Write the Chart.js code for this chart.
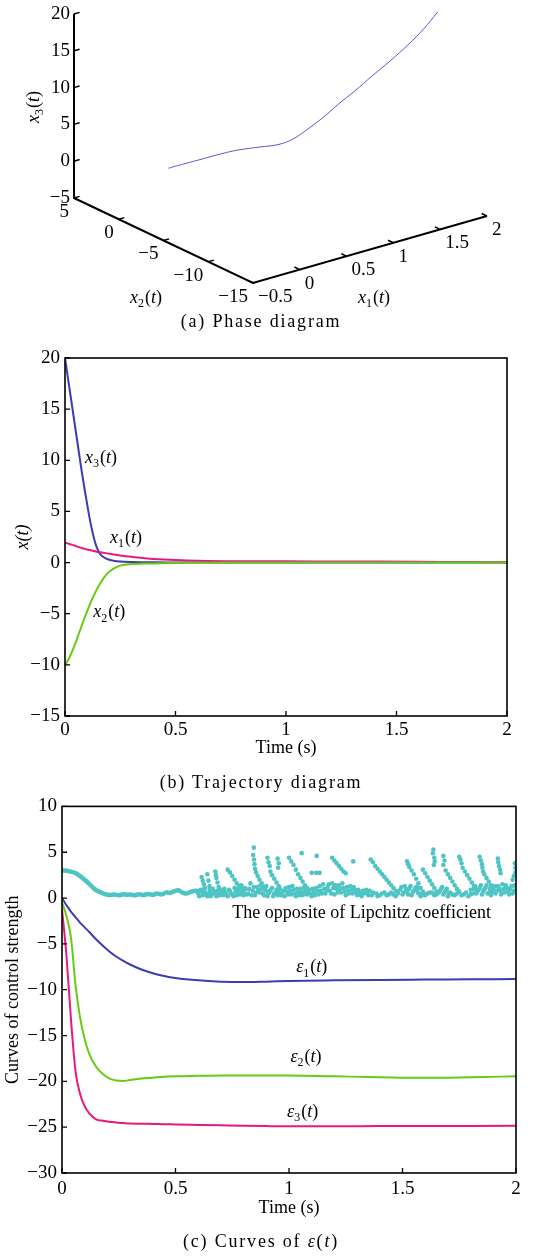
<!DOCTYPE html>
<html>
<head>
<meta charset="utf-8">
<script src="https://cdn.jsdelivr.net/npm/chart.js@4"></script>
<style>
body { margin: 0; background: #fff; }
#wrap { position: relative; width: 536px; height: 1256px; }
canvas { position: absolute; left: 0; }
.cap { position: absolute; left: 0; width: 522px; text-align: center; font: 18px "Liberation Serif", serif; letter-spacing: 1.8px; color: #000; }
</style>
</head>
<body>
<div id="wrap">
  <canvas id="phase" width="536" height="312" style="top:0"></canvas>
  <div class="cap" style="top:311px">(a) Phase diagram</div>
  <canvas id="traj" width="536" height="420" style="top:340px"></canvas>
  <div class="cap" style="top:772px">(b) Trajectory diagram</div>
  <canvas id="eps" width="536" height="430" style="top:790px"></canvas>
  <div class="cap" style="top:1231px">(c) Curves of <i>ε</i>(<i>t</i>)</div>
</div>
<script>
Chart.defaults.font.family = '"Liberation Serif", "Times New Roman", serif';
Chart.defaults.font.size = 18;
Chart.defaults.color = '#000';

// ---- (b) trajectories ----
const timeB = [0, 0.015, 0.03, 0.045, 0.06, 0.075, 0.09, 0.105, 0.12, 0.14, 0.16, 0.19, 0.22, 0.25, 0.3, 0.35, 0.4, 0.5, 0.6, 0.8, 1.0, 1.2, 1.4, 1.6, 1.8, 2.0];
const x1Vals = [1.95, 1.85, 1.75, 1.64, 1.53, 1.43, 1.34, 1.26, 1.18, 1.09, 1.01, 0.9, 0.8, 0.7, 0.56, 0.44, 0.36, 0.25, 0.18, 0.13, 0.12, 0.11, 0.1, 0.08, 0.05, 0.03];
const x2Vals = [-10, -9.5, -8.8, -8.0, -7.1, -6.2, -5.3, -4.5, -3.7, -2.8, -2.0, -1.1, -0.6, -0.3, -0.15, -0.1, -0.08, -0.04, -0.02, 0, 0, 0, 0, 0, 0, 0];
const x3Vals = [20, 17.8, 15.6, 13.4, 11.2, 9.0, 7.0, 5.1, 3.4, 1.7, 0.8, 0.35, 0.18, 0.1, 0.05, 0.03, 0.02, 0.01, 0, 0, 0, 0, 0, 0, 0, 0];

// ---- (a) axis ticks ----
const x1Ticks = [-0.5, 0, 0.5, 1, 1.5, 2];
const x2Ticks = [5, 0, -5, -10, -15];
const x3Ticks = [-5, 0, 5, 10, 15, 20];

// ---- (c) control strength ----
const timeC = [0, 0.02, 0.04, 0.06, 0.08, 0.1, 0.12, 0.15, 0.18, 0.21, 0.24, 0.27, 0.3, 0.35, 0.4, 0.45, 0.5, 0.6, 0.7, 0.8, 0.9, 1.0, 1.2, 1.4, 1.6, 1.8, 2.0];
const eps1 = [0, -0.8, -1.5, -2.1, -2.7, -3.2, -3.7, -4.5, -5.2, -5.85, -6.4, -6.85, -7.25, -7.8, -8.2, -8.5, -8.72, -8.98, -9.12, -9.17, -9.12, -9.05, -8.98, -8.93, -8.9, -8.87, -8.84];
const eps2 = [-0.5, -2.0, -4.4, -9.6, -13.1, -15.4, -17.0, -18.4, -19.2, -19.7, -19.9, -19.95, -19.85, -19.7, -19.6, -19.5, -19.45, -19.4, -19.35, -19.35, -19.35, -19.35, -19.45, -19.55, -19.62, -19.55, -19.45];
const eps3 = [-1.2, -6.4, -13.4, -19.0, -21.4, -22.7, -23.5, -24.15, -24.3, -24.4, -24.5, -24.55, -24.6, -24.62, -24.65, -24.68, -24.7, -24.75, -24.8, -24.85, -24.88, -24.9, -24.9, -24.88, -24.87, -24.86, -24.85];

// opposite of the Lipschitz coefficient: smooth start, then scattered
const lipLineT = [0, 0.013, 0.035, 0.057, 0.08, 0.1, 0.12, 0.138, 0.155, 0.175, 0.19, 0.21, 0.23, 0.25, 0.27, 0.285, 0.3, 0.32, 0.34, 0.358, 0.38, 0.4, 0.417, 0.44, 0.46, 0.476, 0.495, 0.512, 0.53, 0.55, 0.57, 0.593, 0.61];
const lipLineV = [3.0, 3.0, 2.9, 2.75, 2.4, 2.0, 1.55, 1.1, 0.8, 0.58, 0.42, 0.33, 0.38, 0.3, 0.42, 0.35, 0.4, 0.3, 0.42, 0.33, 0.45, 0.35, 0.5, 0.4, 0.62, 0.55, 0.75, 0.85, 0.6, 0.5, 0.7, 0.8, 0.6];
const lipStreaks = [
  [0.615,2.3],[0.62,1.9],[0.625,1.5],[0.63,1.1],[0.64,2.6],[0.645,1.9],[0.65,1.3],[0.655,0.8],
  [0.675,2.9],[0.678,2.5],[0.68,2.2],[0.685,1.7],[0.69,1.2],
  [0.73,3.1],[0.74,2.8],[0.75,2.4],[0.76,2.0],[0.77,1.6],[0.78,1.3],[0.79,1.0],[0.80,0.7],
  [0.845,5.5],[0.842,4.7],[0.846,4.2],[0.848,3.7],[0.85,3.2],[0.855,2.8],[0.862,2.4],[0.87,2.0],[0.88,1.6],[0.89,1.2],[0.90,0.8],
  [0.905,4.4],[0.91,3.9],[0.915,3.5],[0.918,2.9],[0.925,2.5],[0.935,2.1],[0.945,1.7],[0.955,1.3],
  [0.95,4.3],[0.955,3.8],[0.952,3.3],
  [1.0,4.4],[1.01,4.0],[1.02,3.6],[1.03,3.1],[1.04,2.6],[1.05,2.2],[1.06,1.8],[1.07,1.4],[1.08,1.1],
  [1.056,4.9],[1.122,4.6],[1.10,2.75],[1.12,2.75],[1.135,2.75],
  [1.19,4.4],[1.2,4.1],[1.21,3.8],[1.22,3.5],[1.23,3.2],[1.24,2.9],[1.25,2.7],
  [1.283,4.0],
  [1.36,4.2],[1.37,3.9],[1.38,3.5],[1.39,3.2],[1.40,2.9],[1.41,2.6],[1.42,2.3],[1.43,2.0],[1.44,1.7],[1.45,1.4],[1.46,1.1],[1.47,0.8],[1.48,0.5],
  [1.52,4.0],[1.525,3.7],[1.53,3.4],[1.54,3.0],[1.55,2.6],[1.56,2.1],[1.57,1.6],[1.58,1.1],
  [1.59,3.1],[1.60,2.7],[1.61,2.3],[1.62,1.9],[1.63,1.5],[1.64,1.1],[1.65,0.7],
  [1.636,5.3],[1.634,4.9],[1.64,4.4],[1.642,4.0],[1.638,3.6],
  [1.68,4.6],[1.685,4.1],[1.68,3.6],
  [1.69,3.0],[1.70,2.6],[1.71,2.2],[1.72,1.8],[1.73,1.4],[1.74,1.0],
  [1.75,4.5],[1.755,4.2],[1.76,3.8],
  [1.765,3.3],[1.775,2.9],[1.785,2.5],[1.795,2.1],[1.805,1.7],[1.815,1.3],[1.825,0.9],
  [1.84,4.5],[1.845,4.1],[1.85,3.7],[1.852,3.3],[1.855,2.9],
  [1.86,2.6],[1.87,2.2],[1.88,1.8],[1.89,1.4],
  [1.92,4.3],[1.922,3.9],[1.925,3.5],[1.93,3.1],[1.932,2.7],
  [1.995,3.8],[1.997,3.3],[1.998,2.8],[1.99,2.4],[1.985,2.0]
];
const lipCloud = [
  [0.60,0.5],[0.61,0.9],[0.62,0.3],[0.63,0.6],[0.64,0.2],[0.65,0.9],[0.66,0.4],[0.67,0.7],[0.68,0.2],[0.69,0.5],
  [0.70,0.9],[0.71,0.3],[0.72,0.6],[0.73,0.2],[0.74,0.8],[0.75,0.4],[0.76,1.1],[0.77,0.3],[0.78,0.7],[0.79,1.4],
  [0.80,0.3],[0.81,1.0],[0.82,0.5],[0.83,1.6],[0.84,0.8],[0.85,0.3],[0.86,1.2],[0.87,0.6],[0.88,1.0],[0.89,0.3],
  [0.90,1.3],[0.91,0.5],[0.92,0.9],[0.93,0.2],[0.94,0.6],[0.95,0.3],[0.96,1.0],[0.97,0.5],[0.98,0.2],[0.99,0.7],
  [1.0,1.2],[1.01,0.4],[1.02,0.9],[1.03,0.2],[1.04,0.6],[1.05,1.0],[1.06,0.3],[1.07,0.7],[1.08,0.4],[1.09,0.9],
  [1.10,0.2],[1.11,0.6],[1.12,1.1],[1.13,0.4],[1.14,0.8],[1.15,1.5],[1.16,0.5],[1.17,1.2],[1.18,0.8],[1.19,1.6],
  [1.20,0.4],[1.21,1.0],[1.22,1.4],[1.23,0.6],[1.24,1.1],[1.25,0.3],[1.26,0.8],[1.27,1.3],[1.28,0.5],[1.29,0.9],
  [1.30,0.3],[1.31,0.6],[1.32,0.2],[1.33,0.5],[1.34,0.9],[1.35,0.3],[1.37,0.6],[1.39,0.2],[1.41,0.5],[1.43,0.3],
  [1.45,0.6],[1.47,0.2],[1.49,0.9],[1.50,0.4],[1.51,1.3],[1.52,0.7],[1.53,1.0],[1.54,0.3],[1.55,0.8],[1.56,1.2],
  [1.57,0.5],[1.58,0.2],[1.59,0.7],[1.60,0.3],[1.62,0.6],[1.64,0.3],[1.66,0.6],[1.67,1.0],[1.68,0.4],[1.69,0.8],
  [1.70,0.2],[1.71,0.6],[1.73,0.3],[1.75,0.7],[1.77,0.4],[1.79,0.2],[1.80,0.9],[1.81,0.5],[1.82,1.3],[1.83,0.7],
  [1.84,1.1],[1.85,0.4],[1.86,0.9],[1.87,1.4],[1.88,0.6],[1.89,0.3],[1.90,1.0],[1.91,0.5],[1.92,1.3],[1.93,0.8],
  [1.94,1.5],[1.95,0.6],[1.96,1.1],[1.97,0.4],[1.98,1.3],[1.99,0.8],[2.0,1.2],
  [0.605,0.2],[0.615,0.7],[0.625,1.0],[0.635,0.4],[0.645,0.5],[0.655,0.2],[0.665,1.0],[0.675,0.5],[0.685,0.8],[0.695,0.3],
  [0.705,0.6],[0.715,1.0],[0.725,0.4],[0.735,0.9],[0.745,0.5],[0.755,0.2],[0.765,0.7],[0.775,1.0],[0.785,0.4],[0.795,0.6],
  [0.805,1.1],[0.815,0.4],[0.825,1.0],[0.835,0.3],[0.845,1.2],[0.855,0.6],[0.865,0.9],[0.875,1.4],[0.885,0.5],[0.895,0.9],
  [0.905,0.2],[0.915,0.7],[0.925,1.1],[0.935,0.5],[0.945,0.9],[0.955,0.6],[0.965,0.3],[0.975,0.8],[0.985,1.1],[0.995,0.4],
  [1.005,0.8],[1.015,1.3],[1.025,0.5],[1.035,1.0],[1.045,0.3],[1.055,0.6],[1.065,1.1],[1.075,0.5],[1.085,0.8],[1.095,0.5],
  [1.105,1.0],[1.115,0.3],[1.125,0.8],[1.135,1.3],[1.145,0.5],[1.155,1.0],[1.165,0.8],[1.175,1.5],[1.185,0.5],[1.195,1.1],
  [1.205,1.4],[1.215,0.6],[1.225,1.0],[1.235,1.6],[1.245,0.7],[1.255,1.2],[1.265,0.5],[1.275,0.9],[1.285,1.2],[1.295,0.6],
  [1.305,0.9],[1.315,0.4],[1.325,0.8],[1.345,0.5],[1.355,0.8],[1.365,0.3],[1.385,0.5],[1.40,0.3],[1.42,0.6],[1.44,0.4],
  [1.46,0.4],[1.48,0.7],[1.495,1.2],[1.505,0.6],[1.515,1.0],[1.525,0.4],[1.535,1.3],[1.545,0.6],[1.555,1.0],[1.565,0.8],
  [1.575,1.1],[1.585,0.5],[1.595,0.4],[1.61,0.5],[1.63,0.6],[1.65,0.4],[1.665,0.8],[1.675,1.2],[1.685,0.6],[1.695,1.0],
  [1.705,0.5],[1.72,0.4],[1.74,0.5],[1.76,0.3],[1.78,0.6],[1.80,0.4],[1.815,1.0],[1.825,0.5],[1.835,0.9],[1.845,1.4],
  [1.855,0.7],[1.865,1.1],[1.875,0.5],[1.885,1.0],[1.895,0.7],[1.905,1.3],[1.915,0.8],[1.925,1.1],[1.935,0.4],[1.945,1.0],
  [1.955,1.4],[1.965,0.7],[1.975,1.0],[1.985,0.5],[1.995,1.4]
];

const BLUE = '#3c3cb4', PINK = '#e8187e', GREEN = '#66cc11', CYAN = '#4fc4c4';
const SERIF = '"Liberation Serif", "Times New Roman", serif';
const minus = v => (v < 0 ? '\u2212' + Math.abs(v) : String(v));

// draws x_3(t)-style text centred on (cx, cy); parts: [text, 'i'|'r'|'s']
function drawMath(ctx, cx, cy, parts, size) {
  const fontOf = s => s === 'i' ? `italic ${size}px ${SERIF}` : s === 's' ? `${Math.round(size * 0.65)}px ${SERIF}` : `${size}px ${SERIF}`;
  let w = 0;
  parts.forEach(([t, s]) => { ctx.font = fontOf(s); w += ctx.measureText(t).width + (s === 's' ? 1 : 0); });
  let x = cx - w / 2;
  ctx.textAlign = 'left';
  ctx.textBaseline = 'middle';
  ctx.fillStyle = '#000';
  parts.forEach(([t, s]) => {
    ctx.font = fontOf(s);
    ctx.fillText(t, x, s === 's' ? cy + size * 0.32 : cy);
    x += ctx.measureText(t).width + (s === 's' ? 1 : 0);
  });
}
const sym = (b, n) => [[b, 'i'], [n, 's'], ['(', 'r'], ['t', 'i'], [')', 'r']];

// ---------------- (a) phase diagram ----------------
const view = { ox: 253, oy: 283, e1: [93.6, -26.8], e2: [-8.95, -4.25], e3: [0, -7.36] };
function proj(a, b, c) {
  const u = a - x1Ticks[0], v = b - Math.min(...x2Ticks), w = c - x3Ticks[0];
  return {
    x: view.ox + u * view.e1[0] + v * view.e2[0] + w * view.e3[0],
    y: view.oy + u * view.e1[1] + v * view.e2[1] + w * view.e3[1]
  };
}

const axes3d = {
  id: 'axes3d',
  beforeDatasetsDraw(chart) {
    const { ctx, scales: { x, y } } = chart;
    const P = (a, b, c) => { const p = proj(a, b, c); return [x.getPixelForValue(p.x), y.getPixelForValue(p.y)]; };
    const x1min = x1Ticks[0], x1max = x1Ticks[x1Ticks.length - 1];
    const x2min = Math.min(...x2Ticks), x2max = Math.max(...x2Ticks);
    const x3min = x3Ticks[0], x3max = x3Ticks[x3Ticks.length - 1];
    ctx.save();
    ctx.strokeStyle = '#000';
    ctx.lineWidth = 2;
    ctx.beginPath();
    let p = P(x1min, x2max, x3max); ctx.moveTo(p[0], p[1]);
    p = P(x1min, x2max, x3min); ctx.lineTo(p[0], p[1]);
    p = P(x1min, x2min, x3min); ctx.lineTo(p[0], p[1]);
    p = P(x1max, x2min, x3min); ctx.lineTo(p[0], p[1]);
    ctx.stroke();

    ctx.lineWidth = 1.5;
    ctx.beginPath();
    x3Ticks.forEach(v => { const a = P(x1min, x2max, v), b = P(x1min + 0.06, x2max, v); ctx.moveTo(a[0], a[1]); ctx.lineTo(b[0], b[1]); });
    x2Ticks.forEach(v => { const a = P(x1min, v, x3min), b = P(x1min + 0.06, v, x3min); ctx.moveTo(a[0], a[1]); ctx.lineTo(b[0], b[1]); });
    x1Ticks.forEach(v => { const a = P(v, x2min, x3min), b = P(v, x2min + 0.6, x3min); ctx.moveTo(a[0], a[1]); ctx.lineTo(b[0], b[1]); });
    ctx.stroke();

    ctx.fillStyle = '#000';
    ctx.font = `19px ${SERIF}`;
    ctx.textBaseline = 'middle';
    ctx.textAlign = 'right';
    x3Ticks.forEach(v => { const a = P(x1min, x2max, v); ctx.fillText(minus(v), a[0] - 4, a[1]); });
    x2Ticks.forEach(v => { const a = P(x1min, v, x3min); ctx.fillText(minus(v), a[0] - 5, a[1] + 14); });
    ctx.textAlign = 'left';
    x1Ticks.forEach(v => { const a = P(v, x2min, x3min); ctx.fillText(minus(v), a[0] + 5, a[1] + 14); });

    drawMath(ctx, 146, 298, sym('x', '2'), 18);
    drawMath(ctx, 374, 298, sym('x', '1'), 18);
    ctx.translate(34, 107);
    ctx.rotate(-Math.PI / 2);
    drawMath(ctx, 0, 0, sym('x', '3'), 18);
    ctx.restore();
  }
};

new Chart(document.getElementById('phase'), {
  type: 'scatter',
  data: {
    datasets: [{
      data: timeB.map((t, i) => proj(x1Vals[i], x2Vals[i], x3Vals[i])),
      showLine: true,
      borderColor: '#5656d8',
      borderWidth: 1,
      pointRadius: 0,
      tension: 0.4
    }]
  },
  options: {
    responsive: false,
    animation: false,
    layout: { padding: 0 },
    plugins: { legend: { display: false }, tooltip: { enabled: false } },
    scales: {
      x: { type: 'linear', display: false, min: 0, max: 536 },
      y: { type: 'linear', display: false, min: 0, max: 312, reverse: true }
    }
  },
  plugins: [axes3d]
});

// ---------------- shared 2D helpers ----------------
const frameTicks = {
  id: 'frameTicks',
  afterDraw(chart) {
    const { ctx, chartArea: a, scales: { x, y } } = chart;
    ctx.save();
    ctx.strokeStyle = '#000';
    ctx.lineWidth = 1.6;
    ctx.strokeRect(a.left, a.top, a.right - a.left, a.bottom - a.top);
    ctx.lineWidth = 1.3;
    ctx.beginPath();
    x.ticks.forEach(t => { const px = x.getPixelForValue(t.value); ctx.moveTo(px, a.bottom); ctx.lineTo(px, a.bottom - 5); });
    y.ticks.forEach(t => { const py = y.getPixelForValue(t.value); ctx.moveTo(a.left, py); ctx.lineTo(a.left + 5, py); });
    ctx.stroke();
    ctx.restore();
  }
};

const curveLabels = {
  id: 'curveLabels',
  afterDatasetsDraw(chart, args, opts) {
    const { ctx, scales: { x, y } } = chart;
    ctx.save();
    (opts.items || []).forEach(it => drawMath(ctx, x.getPixelForValue(it.t), y.getPixelForValue(it.v), it.parts, 18));
    ctx.restore();
  }
};

const line = (xs, ys, color, w) => ({
  data: xs.map((t, i) => ({ x: t, y: ys[i] })),
  showLine: true,
  borderColor: color,
  borderWidth: w,
  pointRadius: 0,
  cubicInterpolationMode: 'monotone'
});

function axisOpts(min, max, step, yTitle, yPad, yWidth, xHeight, xPad) {
  return {
    x: {
      type: 'linear', min: 0, max: 2,
      grid: { display: false, drawTicks: false }, border: { display: false },
      ticks: { stepSize: 0.5, padding: xPad, maxRotation: 0, color: '#000', font: { size: 19 }, callback: minus },
      title: { display: true, text: 'Time (s)', color: '#000', padding: { top: 0, bottom: 1 } },
      afterFit: s => { s.height = xHeight; }
    },
    y: {
      type: 'linear', min, max,
      grid: { display: false, drawTicks: false }, border: { display: false },
      ticks: { stepSize: step, padding: 5, color: '#000', font: { size: 19 }, callback: minus },
      title: { display: true, text: yTitle.text, font: yTitle.font, color: '#000', padding: { top: yPad, bottom: 0 } },
      afterFit: s => { s.width = yWidth; }
    }
  };
}

// ---------------- (b) trajectory diagram ----------------
new Chart(document.getElementById('traj'), {
  type: 'scatter',
  data: {
    datasets: [
      line(timeB, x2Vals, GREEN, 2),
      line(timeB, x1Vals, PINK, 2),
      line(timeB, x3Vals, BLUE, 2)
    ]
  },
  options: {
    responsive: false,
    animation: false,
    layout: { padding: { top: 18, right: 29, left: 0, bottom: 0 } },
    plugins: {
      legend: { display: false }, tooltip: { enabled: false },
      curveLabels: { items: [
        { t: 0.163, v: 10.2, parts: sym('x', '3') },
        { t: 0.276, v: 2.35, parts: sym('x', '1') },
        { t: 0.2, v: -4.9, parts: sym('x', '2') }
      ] }
    },
    scales: axisOpts(-15, 20, 5, { text: 'x(t)', font: { style: 'italic', size: 18 } }, 12, 65, 44, 3)
  },
  plugins: [frameTicks, curveLabels]
});

// ---------------- (c) curves of epsilon ----------------
new Chart(document.getElementById('eps'), {
  type: 'scatter',
  data: {
    datasets: [
      line(timeC, eps1, BLUE, 2),
      line(timeC, eps2, GREEN, 2),
      line(timeC, eps3, PINK, 2),
      Object.assign(line(lipLineT, lipLineV, CYAN, 4.5), { cubicInterpolationMode: 'default', tension: 0.3 }),
      {
        data: lipStreaks.concat(lipCloud).map(([t, v]) => ({ x: t, y: v })),
        pointRadius: 2.3,
        pointBackgroundColor: CYAN,
        pointBorderWidth: 0,
        showLine: false
      }
    ]
  },
  options: {
    responsive: false,
    animation: false,
    layout: { padding: { top: 15, right: 20, left: 0, bottom: 0 } },
    plugins: {
      legend: { display: false }, tooltip: { enabled: false },
      curveLabels: { items: [
        { t: 1.10, v: -7.6, parts: sym('\u03b5', '1') },
        { t: 1.075, v: -17.4, parts: sym('\u03b5', '2') },
        { t: 1.06, v: -23.4, parts: sym('\u03b5', '3') },
        { t: 1.32, v: -1.63, parts: [['The opposite of Lipchitz coefficient', 'r']] }
      ] }
    },
    scales: axisOpts(-30, 10, 5, { text: 'Curves of control strength', font: { size: 18 } }, 2, 62, 47, 5)
  },
  plugins: [frameTicks, curveLabels]
});
</script>
</body>
</html>
